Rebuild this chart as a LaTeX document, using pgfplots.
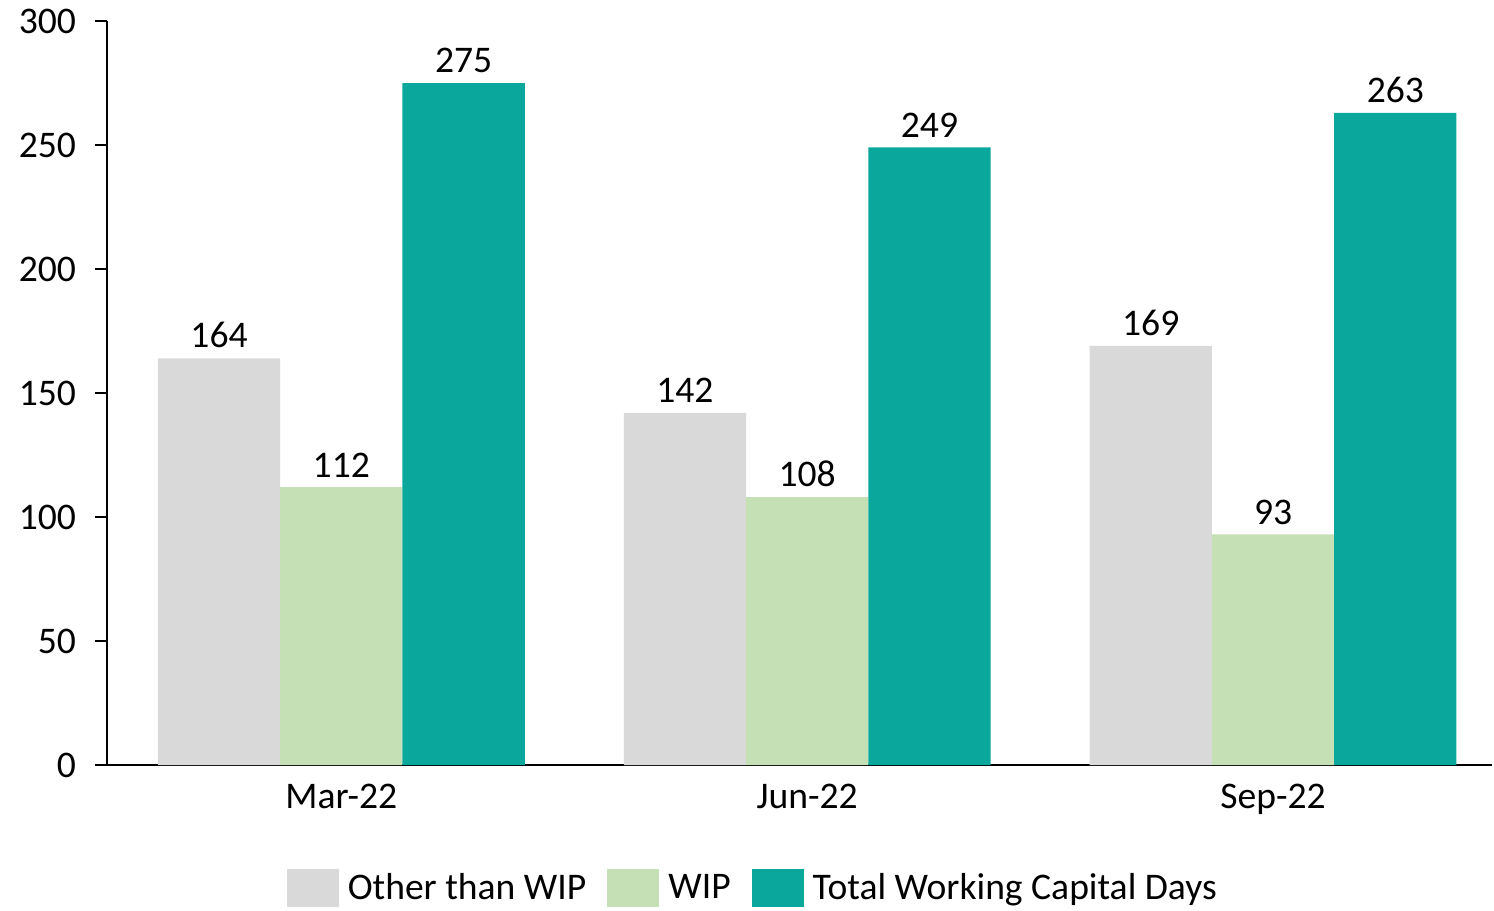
\documentclass[border=0pt]{standalone}
\usepackage{fontspec}
\setmainfont{Carlito}
\usepackage{pgfplots}
\pgfplotsset{compat=1.18}
\definecolor{cgray}{RGB}{217,217,217}
\definecolor{cgreen}{RGB}{197,224,180}
\definecolor{cteal}{RGB}{10,168,156}
\newcommand{\cf}{\fontsize{18.8}{22.5}\selectfont}
\begin{document}
\begin{tikzpicture}
\begin{axis}[
  scale only axis,
  width=692.5pt, height=372pt,
  xmin=-0.503, xmax=2.47,
  ymin=0, ymax=300,
  ytick={0,50,...,300},
  xtick={0,1,2},
  xticklabels={Mar-22,Jun-22,Sep-22},
  axis x line=bottom, axis y line=left,
  axis line style={line width=1pt, -},
  tick style={line width=1pt, black},
  major tick length=6pt,
  tick align=outside,
  x tick style={draw=none},
  ytick style={line width=1pt},
  /pgf/number format/assume math mode=true,
  tick label style={font=\cf},
  yticklabel style={xshift=-6pt},
  ybar, bar width=0.2625,
  nodes near coords,
  every node near coord/.append style={font=\cf, black, yshift=1.5pt},
  legend columns=-1,
  legend style={at={(0.467,-0.1653)}, anchor=center, draw=none, font=\cf,
    /tikz/every even column/.append style={column sep=8.5pt},
    /tikz/every odd column/.append style={column sep=2.5pt}},
  legend image code/.code={\fill[#1] (0pt,-9.5pt) rectangle (26pt,9.5pt);},
]
\addplot[fill=cgray, draw=none, bar shift=-0.2625] coordinates {(0,164) (1,142) (2,169)};
\addplot[fill=cgreen, draw=none, bar shift=0] coordinates {(0,112) (1,108) (2,93)};
\addplot[fill=cteal, draw=none, bar shift=0.2625] coordinates {(0,275) (1,249) (2,263)};
\legend{Other than WIP, WIP, Total Working Capital Days}
\end{axis}
\path ([xshift=-53.5pt,yshift=-71pt]current axis.south west) rectangle ([xshift=1pt,yshift=10.5pt]current axis.north east);
\end{tikzpicture}
\end{document}
